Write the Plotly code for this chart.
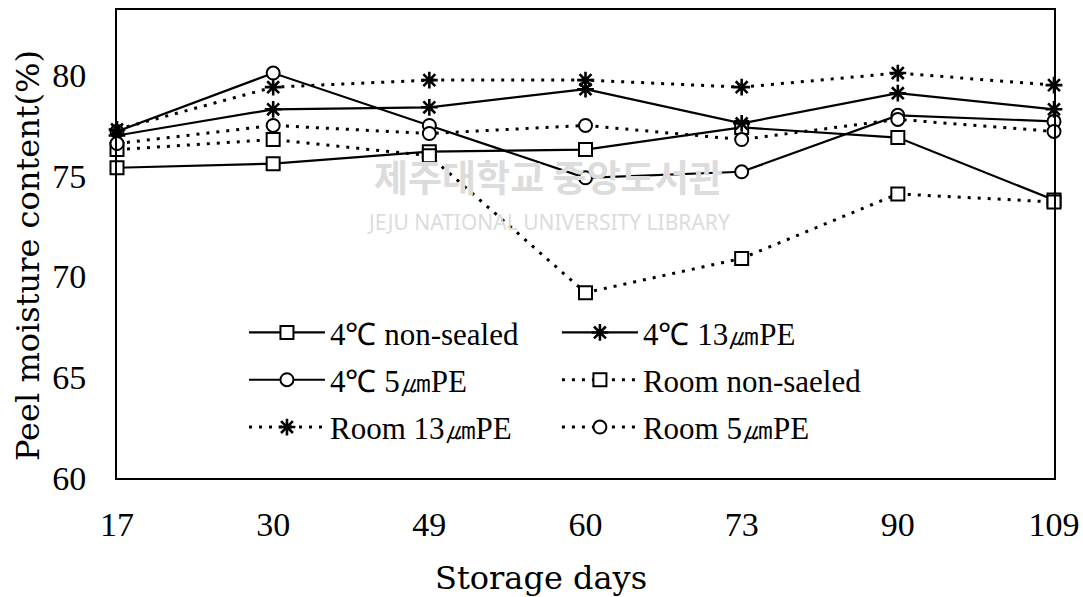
import plotly.graph_objects as go

# ---- data ----
days = ["17", "30", "49", "60", "73", "90", "109"]
y_ticks = [60, 65, 70, 75, 80]

c4_nonsealed = [75.4, 75.6, 76.2, 76.3, 77.4, 76.9, 73.8]
c4_13um = [77.0, 78.3, 78.4, 79.3, 77.6, 79.1, 78.3]
c4_5um = [77.2, 80.1, 77.5, 74.9, 75.2, 78.0, 77.7]
room_nonsealed = [76.3, 76.8, 76.0, 69.2, 70.9, 74.1, 73.7]
room_13um = [77.3, 79.4, 79.75, 79.75, 79.4, 80.1, 79.5]
room_5um = [76.6, 77.5, 77.1, 77.5, 76.8, 77.8, 77.2]

series = [
    # name, values, symbol, dash, legend
    ("4℃ non-sealed", c4_nonsealed, "square", "solid", "legend"),
    ("4℃ 5㎛PE", c4_5um, "circle", "solid", "legend"),
    ("Room 13㎛PE", room_13um, "asterisk-open", "3px,7px", "legend"),
    ("4℃ 13㎛PE", c4_13um, "asterisk-open", "solid", "legend2"),
    ("Room non-saeled", room_nonsealed, "square", "3px,7px", "legend2"),
    ("Room 5㎛PE", room_5um, "circle", "3px,7px", "legend2"),
]

SERIF = "Liberation Serif"

fig = go.Figure()
for name, vals, sym, dash, leg in series:
    is_ast = sym.startswith("asterisk")
    fig.add_trace(go.Scatter(
        x=days, y=vals, name=name, mode="lines+markers",
        legend=leg, legendgroup=name, cliponaxis=False,
        line=dict(color="black", width=2.2 if dash == "solid" else 3, dash=dash),
        marker=dict(symbol=sym, size=14 if is_ast else 13,
                    color="black" if is_ast else "white",
                    line=dict(color="black", width=2.6 if is_ast else 2)),
    ))

legend_common = dict(
    xanchor="left", yanchor="top", orientation="v",
    font=dict(family=SERIF, size=31, color="black"),
    itemwidth=76, tracegroupgap=4, traceorder="grouped",
    bgcolor="rgba(0,0,0,0)", borderwidth=0,
)

fig.update_layout(
    width=1083, height=597,
    margin=dict(l=117, r=29, t=10, b=119, autoexpand=False),
    paper_bgcolor="white", plot_bgcolor="white",
    showlegend=True,
    legend=dict(x=0.1355, y=0.368, **legend_common),
    legend2=dict(x=0.4695, y=0.368, **legend_common),
    xaxis=dict(
        type="category", range=[0, 6], showgrid=False, zeroline=False,
        showline=True, mirror=True, linecolor="black", linewidth=2,
        ticks="", tickfont=dict(family=SERIF, size=34, color="black"),
        ticklabelstandoff=15, automargin=False,
    ),
    yaxis=dict(
        range=[60, 83.23], tickvals=y_ticks, showgrid=False, zeroline=False,
        showline=True, mirror=True, linecolor="black", linewidth=2,
        ticks="", tickfont=dict(family=SERIF, size=34, color="black"),
        ticklabelstandoff=22, automargin=False,
    ),
    annotations=[
        dict(text="Peel moisture content(%)", xref="paper", yref="paper",
             x=-0.095, y=0.4765, xanchor="center", yanchor="middle",
             textangle=-90, showarrow=False,
             font=dict(family="DejaVu Serif", size=32, color="black")),
        dict(text="Storage days", xref="paper", yref="paper",
             x=0.452, y=-0.2137, xanchor="center", yanchor="middle",
             showarrow=False,
             font=dict(family="DejaVu Serif", size=32, color="black")),
        dict(text="제주대학교 중앙도서관", xref="paper", yref="paper",
             x=0.46, y=0.645, xanchor="center", yanchor="middle",
             showarrow=False,
             font=dict(family="Noto Sans CJK KR", size=37, color="#dcdcdc", weight="bold")),
        dict(text="JEJU NATIONAL UNIVERSITY LIBRARY", xref="paper", yref="paper",
             x=0.46, y=0.548, xanchor="center", yanchor="middle",
             showarrow=False,
             font=dict(family="Noto Sans", size=21, color="#dcdcdc")),
    ],
)

fig.write_html("out.html", config={"displayModeBar": False},
               post_script="document.body.style.margin='0px';")
